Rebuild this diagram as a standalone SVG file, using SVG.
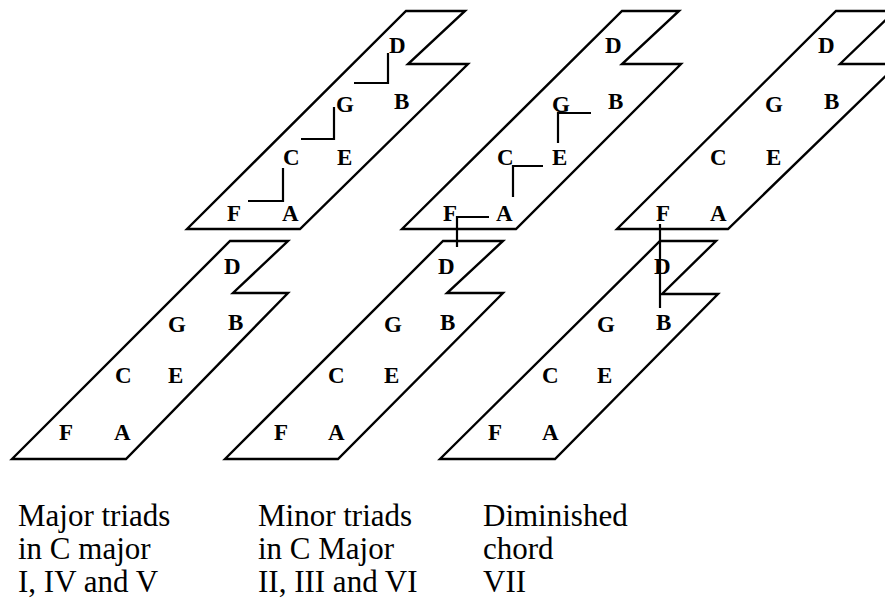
<svg xmlns="http://www.w3.org/2000/svg" width="885" height="599" viewBox="0 0 885 599">
<style>
.strip{fill:none;stroke:#000;stroke-width:2.4;stroke-linejoin:miter}
.c{fill:none;stroke:#000;stroke-width:2.2}
</style>
<rect width="885" height="599" fill="#fff"/>
<g id="nodes" font-family="Liberation Serif, Times New Roman, serif" font-weight="bold" font-size="23" fill="#000">
<g id="top-major">
<polygon class="strip" points="187,229 406,11 465,11 408,64 468,64 300,229"/>
<text x="389" y="53">D</text><text x="394" y="109">B</text><text x="336" y="112">G</text>
<text x="283" y="165">C</text><text x="337" y="165">E</text><text x="227" y="221">F</text><text x="282" y="221">A</text>
</g>
<g id="top-minor">
<polygon class="strip" points="402,229 622,11 679,11 622,64 681,64 516,229"/>
<text x="605" y="53">D</text><text x="608" y="109">B</text><text x="552" y="112">G</text>
<text x="497" y="165">C</text><text x="552" y="165">E</text><text x="443" y="221">F</text><text x="496" y="221">A</text>
</g>
<g id="top-dim">
<polygon class="strip" points="617,229 836,11 895,11 840,64 898,64 728,229"/>
<text x="818" y="53">D</text><text x="824" y="109">B</text><text x="765" y="112">G</text>
<text x="710" y="165">C</text><text x="766" y="165">E</text><text x="656" y="221">F</text><text x="710" y="221">A</text>
</g>
<g id="bottom-major">
<polygon class="strip" points="12,459 230,241 288,241 233,293 288,293 126,459"/>
<text x="224" y="274">D</text><text x="228" y="330">B</text><text x="168" y="332">G</text>
<text x="115" y="383">C</text><text x="168" y="383">E</text><text x="59" y="440">F</text><text x="114" y="440">A</text>
</g>
<g id="bottom-minor">
<polygon class="strip" points="225,459 443,241 503,241 447,293 503,293 338,459"/>
<text x="438" y="274">D</text><text x="440" y="330">B</text><text x="384" y="332">G</text>
<text x="328" y="383">C</text><text x="384" y="383">E</text><text x="274" y="440">F</text><text x="328" y="440">A</text>
</g>
<g id="bottom-dim">
<polygon class="strip" points="440,459 660,241 716,241 662,294 718,294 555,459"/>
<text x="654" y="274">D</text><text x="656" y="330">B</text><text x="597" y="332">G</text>
<text x="542" y="383">C</text><text x="597" y="383">E</text><text x="488" y="440">F</text><text x="542" y="440">A</text>
</g>
</g>
<g id="connectors">
<polyline class="c" points="248,201 283,201 283,168"/>
<polyline class="c" points="301,139 334,139 334,107"/>
<polyline class="c" points="354,83 388,83 388,53"/>
<polyline class="c" points="489,217 457,217 457,247"/>
<polyline class="c" points="513,197 513,166 543,166"/>
<polyline class="c" points="558,143 558,113 591,113"/>
<line class="c" x1="660" y1="224" x2="660" y2="308"/>
</g>
<g id="captions" font-family="Liberation Serif, Times New Roman, serif" font-size="31" fill="#000">
<text x="18" y="526">Major triads</text>
<text x="18" y="559">in C major</text>
<text x="18" y="592">I, IV and V</text>
<text x="258" y="526">Minor triads</text>
<text x="258" y="559">in C Major</text>
<text x="258" y="592">II, III and VI</text>
<text x="483" y="526">Diminished</text>
<text x="483" y="559">chord</text>
<text x="483" y="592">VII</text>
</g>
</svg>
